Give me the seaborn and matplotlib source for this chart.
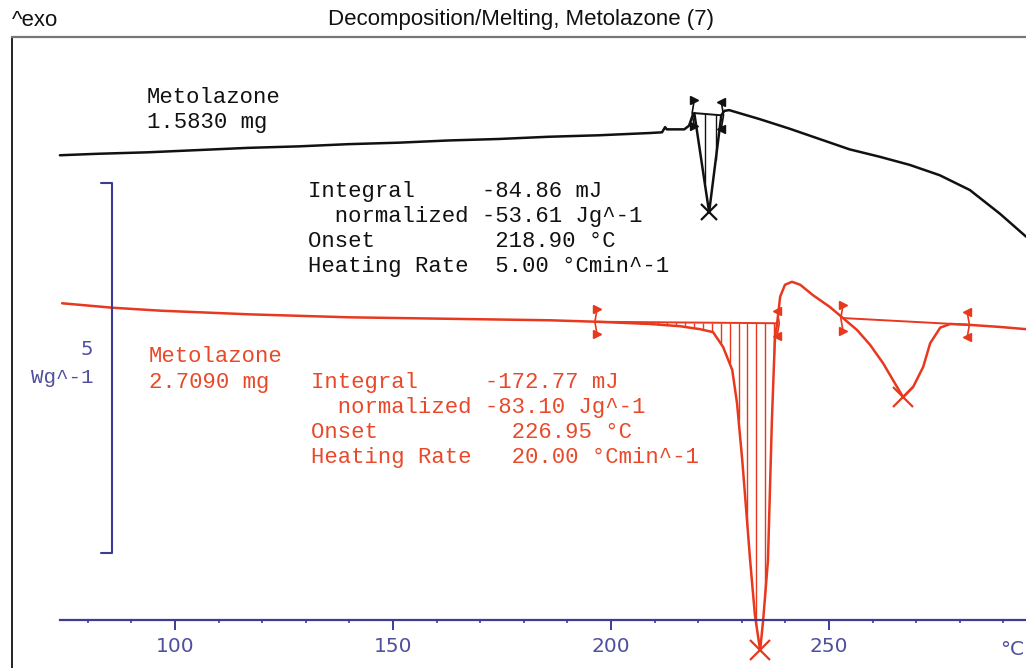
import numpy as np
import pandas as pd
import matplotlib
matplotlib.use("Agg")
import matplotlib.pyplot as plt
import seaborn as sns
from matplotlib.ticker import FixedLocator

# DSC curves, temperature in degC, heat flow in W/g (arbitrary offset)
black_temp = [73.6, 82.3, 93.8, 105.3, 116.8, 128.3, 139.8, 151.3, 162.8, 174.3,
              185.7, 197.2, 208.7, 211.7, 212.4, 212.8, 216.8, 217.9, 218.6, 219.1,
              222.5, 225.3, 226.0, 227.1, 234.0, 240.9, 247.8, 254.7, 261.6, 268.5,
              275.4, 282.3, 289.2, 295.2]
black_flow = [6.28, 6.30, 6.32, 6.35, 6.38, 6.40, 6.43, 6.45, 6.48, 6.50,
              6.53, 6.55, 6.58, 6.59, 6.66, 6.63, 6.63, 6.68, 6.80, 6.85,
              5.51, 6.82, 6.88, 6.89, 6.77, 6.64, 6.50, 6.36, 6.26, 6.15,
              6.01, 5.81, 5.49, 5.18]

red_temp = [74.1, 85.6, 96.6, 117.2, 140.1, 163.1, 186.0, 196.8, 208.9, 215.8,
            220.4, 223.4, 225.7, 227.8, 228.9, 230.1, 231.0, 231.9, 233.0, 234.2,
            234.9, 236.0, 236.9, 237.6, 238.1, 238.8, 239.9, 241.5, 243.4, 246.3,
            250.2, 253.2, 256.4, 259.4, 262.4, 264.7, 267.0, 269.3, 271.6, 273.2,
            275.5, 277.8, 281.7, 289.2, 295.2]
red_flow = [4.28, 4.22, 4.18, 4.13, 4.09, 4.07, 4.05, 4.03, 4.00, 3.97,
            3.93, 3.89, 3.69, 3.38, 2.93, 2.16, 1.49, 0.81, 0.07, -0.41,
            0.00, 0.81, 2.70, 3.82, 4.01, 4.37, 4.53, 4.57, 4.53, 4.39,
            4.23, 4.08, 3.92, 3.72, 3.47, 3.24, 3.01, 3.15, 3.42, 3.74,
            3.95, 4.00, 3.99, 3.96, 3.93]

# integration limits (degC)
black_limits = [219.1, 225.3]
red_limits = [[196.8, 238.1], [253.2, 281.7]]

black_text = ["Integral     -84.86 mJ", "  normalized -53.61 Jg^-1",
              "Onset         218.90 °C", "Heating Rate  5.00 °Cmin^-1"]
red_text = ["Integral     -172.77 mJ", "  normalized -83.10 Jg^-1",
            "Onset          226.95 °C", "Heating Rate   20.00 °Cmin^-1"]
black_sample = ["Metolazone", "1.5830 mg"]
red_sample = ["Metolazone", "2.7090 mg"]

major_ticks = [100, 150, 200, 250]
minor_ticks = list(range(80, 300, 10))

sns.set_theme(style="white")
plt.rcParams['font.family'] = ['DejaVu Sans']

BLACK = "#111111"
RED = "#e8381e"
RED_TXT = "#e8492a"
BLUE = "#3c3c98"
BLUE_TXT = "#50509e"
MONO = "Liberation Mono"

fig = plt.figure(figsize=(10.26, 6.68), dpi=100)
ax = fig.add_axes([12 / 1026, 0, 1014 / 1026, 631 / 668])

df_black = pd.DataFrame({"T": black_temp, "hf": black_flow})
df_red = pd.DataFrame({"T": red_temp, "hf": red_flow})
sns.lineplot(data=df_black, x="T", y="hf", color=BLACK, lw=1.8, sort=False,
             estimator=None, ax=ax)
sns.lineplot(data=df_red, x="T", y="hf", color=RED, lw=1.8, sort=False,
             estimator=None, ax=ax)


def mark_peak(df, lo, hi, color, step, start, xsize, dy, hatch=True):
    t = df["T"].values
    h = df["hf"].values
    y_lo, y_hi = np.interp(lo, t, h), np.interp(hi, t, h)
    # baseline
    ax.plot([lo, hi], [y_lo, y_hi], color=color, lw=1.4)
    # hatching between baseline and curve
    if hatch:
        for x in np.arange(start, hi, step):
            base = np.interp(x, [lo, hi], [y_lo, y_hi])
            cur = np.interp(x, t, h)
            if cur < base:
                ax.vlines(x, cur, base, color=color, lw=1.0)
    # peak cross
    sel = (t >= lo) & (t <= hi)
    i = np.argmin(h[sel])
    ax.plot(t[sel][i], h[sel][i], marker="x", ms=xsize, mew=1.6, color=color,
            clip_on=False)
    # limit markers
    for x, y, m, s in [(lo, y_lo, ">", -1), (hi, y_hi, "<", 1)]:
        ax.plot([x, x + s * 0.5, x], [y + dy, y, y - dy], color=color, lw=1.2)
        ax.plot([x, x], [y + dy, y - dy], ls="none", marker=m, ms=6, color=color)


mark_peak(df_black, black_limits[0], black_limits[1], BLACK, 2.5, 221.5, 12, 0.18)
mark_peak(df_red, red_limits[0][0], red_limits[0][1], RED, 2.05, 198.5, 14, 0.17)
mark_peak(df_red, red_limits[1][0], red_limits[1][1], RED, 2.05, 0, 14, 0.17,
          hatch=False)

# scale bar 5 W/g
ax.plot([83.0, 85.55, 85.55, 83.0], [5.905, 5.905, 0.905, 0.905], color=BLUE, lw=1.5)
ax.text(81.2, 3.66, "5", ha="right", va="center", color=BLUE_TXT, fontsize=14)
ax.text(81.2, 3.28, "Wg^-1", ha="right", va="center", color=BLUE_TXT,
        fontsize=15, family=MONO)

# annotations
for i, s in enumerate(black_sample):
    ax.text(93.6, 7.054 - i * 0.338, s, color=BLACK, fontsize=16, family=MONO,
            ha="left", va="center")
for i, s in enumerate(black_text):
    ax.text(130.5, 5.797 - i * 0.338, s, color=BLACK, fontsize=16, family=MONO,
            ha="left", va="center")
for i, s in enumerate(red_sample):
    ax.text(94.0, 3.554 - i * 0.338, s, color=RED_TXT, fontsize=16, family=MONO,
            ha="left", va="center")
for i, s in enumerate(red_text):
    ax.text(131.2, 3.216 - i * 0.338, s, color=RED_TXT, fontsize=16, family=MONO,
            ha="left", va="center")

ax.set_xlim(62.61, 295.18)
ax.set_ylim(-0.6486, 7.878)
ax.set_xlabel("")
ax.set_ylabel("")
ax.set_yticks([])

ax.spines["right"].set_visible(False)
ax.spines["top"].set_color("#777777")
ax.spines["top"].set_linewidth(1.6)
ax.spines["left"].set_color("#222222")
ax.spines["left"].set_linewidth(1.4)
ax.spines["bottom"].set_position(("data", 0))
ax.spines["bottom"].set_bounds(73.6, 295.18)
ax.spines["bottom"].set_color(BLUE)
ax.spines["bottom"].set_linewidth(1.6)

ax.xaxis.set_major_locator(FixedLocator(major_ticks))
ax.xaxis.set_minor_locator(FixedLocator(minor_ticks))
ax.tick_params(axis="x", which="major", direction="out", length=7, width=1.4,
               color=BLUE, labelcolor=BLUE_TXT, labelsize=14.5, pad=5, bottom=True)
ax.tick_params(axis="x", which="minor", direction="out", length=2.5, width=1.2,
               color=BLUE, bottom=True)
ax.text(292.0, -0.405, "°C", ha="center", va="center", color=BLUE_TXT,
        fontsize=14.5, clip_on=False)

fig.text(12 / 1026, 1 - 20 / 668, "^exo", ha="left", va="center", fontsize=16,
         family="Liberation Sans", color=BLACK)
fig.text(521 / 1026, 1 - 20 / 668, "Decomposition/Melting, Metolazone (7)",
         ha="center", va="center", fontsize=16, family="Liberation Sans", color=BLACK)

fig.savefig("out.png", dpi=100)
